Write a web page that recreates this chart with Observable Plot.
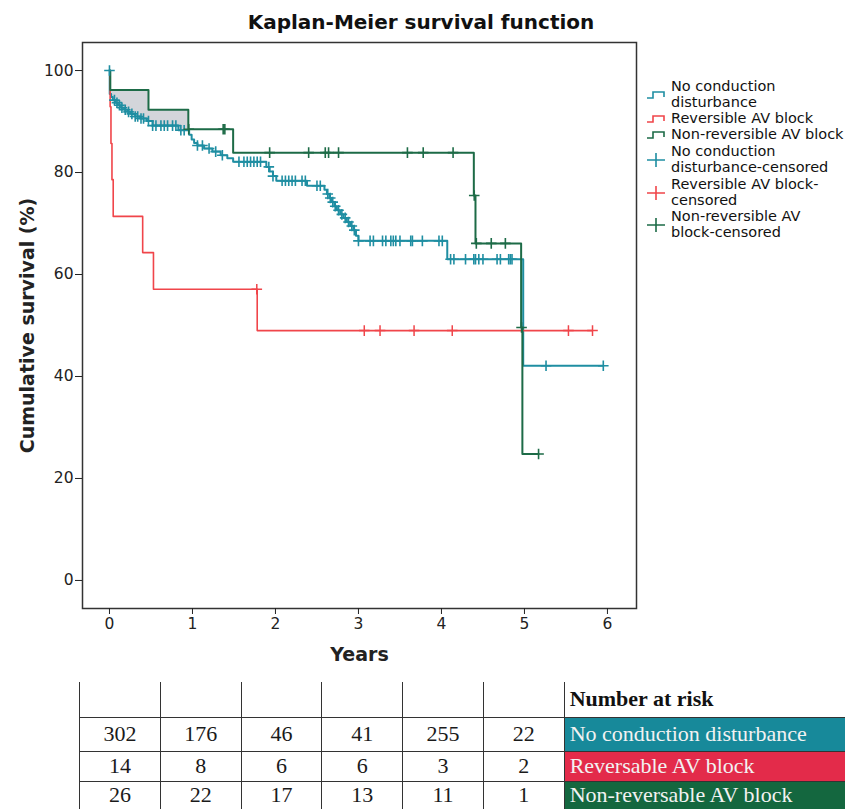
<!DOCTYPE html>
<html><head><meta charset="utf-8">
<script src="https://cdn.jsdelivr.net/npm/d3@7"></script>
<script src="https://cdn.jsdelivr.net/npm/@observablehq/plot@0.6"></script>
<style>
body{margin:0;background:#fff;}
#wrap{position:relative;width:845px;height:809px;overflow:hidden;font-family:"DejaVu Sans",sans-serif;color:#111;}
#plot{position:absolute;left:0;top:0;}
#title{position:absolute;left:0;width:842px;top:9px;text-align:center;font-weight:bold;font-size:20px;line-height:26px;}
.leg{position:absolute;left:646px;display:flex;align-items:center;font-size:14.5px;line-height:15.8px;color:#111;white-space:nowrap;}
.leg svg{flex:none;margin-right:5px;}
g[aria-label="x-axis label"] text,g[aria-label="y-axis label"] text{font-size:19px !important;font-weight:bold;}
#risk{position:absolute;left:79px;top:682px;border-collapse:collapse;table-layout:fixed;font-family:"Liberation Serif",serif;font-size:22px;}
#risk td{border-left:1.5px solid #333;border-right:1.5px solid #333;border-bottom:1.5px solid #333;padding:0;text-align:center;color:#1a1a1a;overflow:hidden;white-space:nowrap;}
#risk td.lab{text-align:left;padding-left:5px;border-right:none;color:#f2f2f2;}
#risk td.head{text-align:left;padding-left:5px;border-right:none;font-weight:bold;color:#111;background:#fff;}
</style></head>
<body><div id="wrap"><div id="plot"></div><div id="title">Kaplan-Meier survival function</div></div>
<script>
// ---------- data ----------
const groups = ["No conduction disturbance", "Reversible AV block", "Non-reversible AV block"];
// No conduction disturbance: event times (years) and survival after each step (%)
const tealTimes = [0.003,0.02,0.04,0.07,0.10,0.14,0.18,0.22,0.26,0.31,0.37,0.45,0.52,0.83,0.96,0.99,1.02,1.06,1.14,1.24,1.34,1.42,1.49,1.89,1.93,1.97,2.01,2.38,2.59,2.62,2.65,2.68,2.71,2.74,2.78,2.82,2.86,2.90,2.94,2.97,3.00,4.07,4.985];
const tealSurv  = [95.4,94.8,94.2,93.7,93.2,92.7,92.3,91.9,91.5,91.0,90.6,90.1,89.2,88.3,87.4,86.5,85.8,85.3,84.7,84.1,83.4,82.8,82.1,81.1,80.2,79.3,78.4,77.4,76.6,75.8,75.0,74.2,73.4,72.6,71.8,71.1,70.3,69.5,68.7,67.6,66.6,63.0,42.1];
const tealEnd = 5.95;
const tealCensor = [0,0.06,0.09,0.12,0.15,0.19,0.23,0.27,0.31,0.34,0.38,0.41,0.47,0.52,0.56,0.62,0.66,0.70,0.76,0.80,0.86,0.90,1.06,1.12,1.20,1.28,1.36,1.56,1.62,1.66,1.70,1.74,1.78,1.82,1.92,1.97,2.08,2.12,2.16,2.20,2.24,2.32,2.36,2.50,2.54,2.63,2.66,2.69,2.72,2.76,2.80,2.84,2.88,2.92,2.95,3.00,3.14,3.18,3.29,3.33,3.39,3.42,3.45,3.50,3.63,3.65,3.77,3.97,4.01,4.11,4.15,4.29,4.39,4.41,4.45,4.50,4.67,4.71,4.81,4.83,4.85,5.26,5.95];
// Reversible AV block
const redTimes = [0.008,0.018,0.03,0.045,0.40,0.53,1.78];
const redSurv  = [92.9,85.7,78.6,71.4,64.3,57.1,49.0];
const redEnd = 5.82;
const redCensor = [1.775,3.07,3.26,3.67,4.13,5.53,5.82];
// Non-reversible AV block
const greenTimes = [0.01,0.47,0.95,1.49,4.39,4.41,4.96,4.975];
const greenSurv  = [96.2,92.3,88.5,83.9,75.5,66.1,49.6,24.8];
const greenEnd = 5.17;
const greenCensor = [0.955,1.37,1.39,1.93,2.40,2.60,2.64,2.76,3.59,3.78,4.14,4.395,4.42,4.60,4.77,4.965,5.17];
// axes
const xTicks = [0,1,2,3,4,5,6];
const yTicks = [0,20,40,60,80,100];
// number at risk table
const riskLabels = ["No conduction disturbance","Reversable AV block","Non-reversable AV block"];
const riskNoCond = [302,176,46,41,255,22];
const riskRev = [14,8,6,6,3,2];
const riskNonRev = [26,22,17,13,11,1];

// ---------- build ----------
const teal = "#1f8ea2", red = "#f0454a", green = "#1d6b47";
const cellColors = ["#17899a", "#e32b4a", "#14673f"];
function survAt(T, S, t){ let v = 100; for (let i=0;i<T.length;i++) if (T[i] <= t) v = S[i]; return v; }
function lineData(T, S, end){ return [{t:0,s:100}, ...T.map((t,i)=>({t, s:S[i]})), {t:end, s:S[S.length-1]}]; }
function censorData(C, T, S){ return C.map(t => ({t, s: survAt(T,S,t)})); }
const shadeStart = 0.01, shadeEnd = 0.95;
const shadeT = Array.from(new Set([shadeStart, ...tealTimes, ...greenTimes, shadeEnd].filter(t => t >= shadeStart && t <= shadeEnd))).sort((a,b)=>a-b);
const shade = shadeT.map(t => ({t, lo: survAt(tealTimes,tealSurv,t), hi: survAt(greenTimes,greenSurv,t)}));

const chart = Plot.plot({
  width: 845, height: 680,
  marginLeft: 82, marginRight: 209, marginTop: 42, marginBottom: 72,
  x: {domain: [-0.325, 6.35]},
  y: {domain: [-5.5, 105.5]},
  style: {fontFamily: "DejaVu Sans", fontSize: "15.5px", color: "#222", background: "white", overflow: "visible"},
  marks: [
    Plot.areaY(shade, {x: "t", y1: "lo", y2: "hi", curve: "step-after", fill: "#d3d5da"}),
    Plot.line(lineData(tealTimes, tealSurv, tealEnd), {x: "t", y: "s", curve: "step-after", stroke: teal, strokeWidth: 2}),
    Plot.line(lineData(redTimes, redSurv, redEnd), {x: "t", y: "s", curve: "step-after", stroke: red, strokeWidth: 1.6}),
    Plot.line(lineData(greenTimes, greenSurv, greenEnd), {x: "t", y: "s", curve: "step-after", stroke: green, strokeWidth: 2}),
    Plot.dot(censorData(tealCensor, tealTimes, tealSurv), {x: "t", y: "s", symbol: "plus", r: 3.5, stroke: teal, strokeWidth: 1.6}),
    Plot.dot(censorData(redCensor, redTimes, redSurv), {x: "t", y: "s", symbol: "plus", r: 3.5, stroke: red, strokeWidth: 1.5}),
    Plot.dot(censorData(greenCensor, greenTimes, greenSurv), {x: "t", y: "s", symbol: "plus", r: 3.5, stroke: green, strokeWidth: 1.6}),
    Plot.frame({stroke: "#333", strokeWidth: 1.5}),
    Plot.axisX({ticks: xTicks, tickFormat: d3.format("d"), tickSize: 6, tickPadding: 3, label: "Years", labelAnchor: "center", labelOffset: 52, labelArrow: "none"}),
    Plot.axisY({ticks: yTicks, tickFormat: d3.format("d"), tickSize: 7, tickPadding: 2, label: "Cumulative survival (%)", labelAnchor: "center", labelOffset: 62, labelArrow: "none"})
  ]
});
document.getElementById("plot").appendChild(chart);

// legend
const wrap = document.getElementById("wrap");
const legendItems = [
  {lines: ["No conduction", "disturbance"], color: teal, kind: "step", top: 79},
  {lines: ["Reversible AV block"], color: red, kind: "step", top: 111},
  {lines: ["Non-reversible AV block"], color: green, kind: "step", top: 127},
  {lines: ["No conduction", "disturbance-censored"], color: teal, kind: "plus", top: 144},
  {lines: ["Reversible AV block-", "censored"], color: red, kind: "plus", top: 177},
  {lines: ["Non-reversible AV", "block-censored"], color: green, kind: "plus", top: 209}
];
for (const it of legendItems){
  const d = document.createElement("div");
  d.className = "leg"; d.style.top = it.top + "px";
  const icon = it.kind === "step"
    ? `<svg width="20" height="10"><path d="M1,8H7V2H18V7" fill="none" stroke="${it.color}" stroke-width="1.6"/></svg>`
    : `<svg width="20" height="16"><path d="M1,8H19M10,1V15" fill="none" stroke="${it.color}" stroke-width="1.6"/></svg>`;
  d.innerHTML = icon + `<div>${it.lines.join("<br>")}</div>`;
  wrap.appendChild(d);
}

// number at risk table
const tbl = document.createElement("table");
tbl.id = "risk";
const colW = [81,81,81,81,81,81,281];
let html = "<colgroup>" + colW.map(w => `<col style="width:${w}px">`).join("") + "</colgroup>";
html += `<tr style="height:35px">` + riskNoCond.map(() => "<td></td>").join("") + `<td class="head">Number at risk</td></tr>`;
const rows = [riskNoCond, riskRev, riskNonRev];
const rowH = [34, 30, 28];
rows.forEach((r, i) => {
  html += `<tr style="height:${rowH[i]}px">` + r.map(v => `<td>${v}</td>`).join("") +
    `<td class="lab" style="background:${cellColors[i]}">${riskLabels[i]}</td></tr>`;
});
tbl.innerHTML = html;
wrap.appendChild(tbl);
</script></body></html>
